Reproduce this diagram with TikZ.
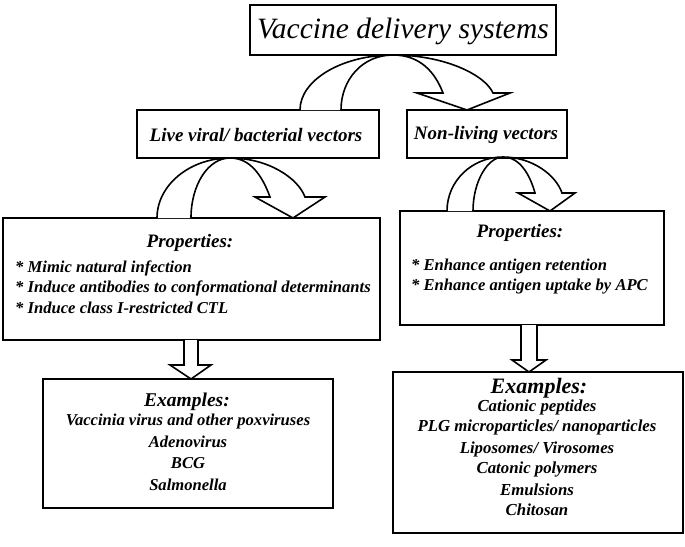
\documentclass[tikz,border=0pt]{standalone}
\usepackage{fontspec}
\setmainfont{Liberation Serif}
\begin{document}
\begin{tikzpicture}[x=1pt,y=-1pt,
  box/.style={draw, line width=1.6pt, fill=white, inner sep=0pt},
  blockarrow/.style={draw, line width=1.6pt, fill=white, line join=miter},
  bi/.style={font=\bfseries\itshape\fontsize{#1}{#1}\selectfont, inner sep=0pt},
  bi/.default=16.6]
\useasboundingbox (0,0) rectangle (685,546);
% boxes
\node[box, minimum width=306pt, minimum height=50pt] (title) at (403,30) {};
\node[font=\itshape\fontsize{29.5}{29.5}\selectfont, inner sep=0pt] (titletxt) at (403,31) {Vaccine delivery systems};
\node[box, minimum width=242pt, minimum height=48pt] (live) at (258,134) {};
\node[bi=19] (livetxt) at (256,135) {Live viral/ bacterial vectors};
\node[box, minimum width=160pt, minimum height=48pt] (nonliv) at (487,134) {};
\node[bi=19] (nonlivtxt) at (486,135) {Non-living vectors};
\node[box, minimum width=377pt, minimum height=122pt] (propL) at (191.5,279) {};
\node[box, minimum width=264pt, minimum height=114pt] (propR) at (532,268) {};
\node[box, minimum width=290pt, minimum height=129pt] (exL) at (188,443.5) {};
\node[box, minimum width=290pt, minimum height=161pt] (exR) at (538,452.5) {};

% curved block arrows
\draw[blockarrow] (300,110) .. controls (300,80) and (342,55) .. (393,55)
  .. controls (445,55) and (485,75) .. (493,93) -- (510,93) -- (467,110) -- (417,93) -- (443,93)
  .. controls (435,72) and (420,55) .. (393,55) .. controls (362,55) and (341,80) .. (341,110);
\draw[blockarrow] (157,218) .. controls (157,185) and (190,158) .. (230,158)
  .. controls (268,158) and (298,178) .. (305,197) -- (325,197) -- (293,218) -- (255,197) -- (270,197)
  .. controls (262,175) and (250,158) .. (230,158) .. controls (208,158) and (191,185) .. (191,218);
\draw[blockarrow] (447,211) .. controls (447,181) and (472,157) .. (503,157)
  .. controls (532,157) and (556,175) .. (562,193) -- (575,193) -- (550,211) -- (518,193) -- (535,193)
  .. controls (530,175) and (520,157) .. (503,157) .. controls (488,157) and (473,181) .. (473,211);
% straight block arrows
\draw[blockarrow] (184,340) -- (184,365) -- (170,365) -- (191,379) -- (211,365) -- (198,365) -- (198,340);
\draw[blockarrow] (521,325) -- (521,360) -- (512,360) -- (529,372) -- (546,360) -- (537,360) -- (537,325);

% properties left
\node[bi=19] (pLh) at (190,243) {Properties:};
\node[bi, anchor=west] (pL1) at (15,268) {* Mimic natural infection};
\node[bi, anchor=west] (pL2) at (15,288) {* Induce antibodies to conformational determinants};
\node[bi, anchor=west] (pL3) at (15,308) {* Induce class I-restricted CTL};
% properties right
\node[bi=19] (pRh) at (520,233) {Properties:};
\node[bi, anchor=west] (pR1) at (411,267) {* Enhance antigen retention};
\node[bi, anchor=west] (pR2) at (411,287) {* Enhance antigen uptake by APC};
% examples left
\node[bi=19.5] (eLh) at (187,402) {Examples:};
\node[bi] (eL1) at (188,422) {Vaccinia virus and other poxviruses};
\node[bi] (eL2) at (188,442) {Adenovirus};
\node[bi] (eL3) at (188,463) {BCG};
\node[bi] (eL4) at (188,485) {Salmonella};
% examples right
\node[bi=22] (eRh) at (539,388) {Examples:};
\node[bi=16.8] (eR1) at (537,407) {Cationic peptides};
\node[bi=16.8] (eR2) at (537,427) {PLG microparticles/ nanoparticles};
\node[bi=16.8] (eR3) at (537,449) {Liposomes/ Virosomes};
\node[bi=16.8] (eR4) at (537,469) {Catonic polymers};
\node[bi=16.8] (eR5) at (537,490) {Emulsions};
\node[bi=16.8] (eR6) at (537,510) {Chitosan};
\end{tikzpicture}
\end{document}
